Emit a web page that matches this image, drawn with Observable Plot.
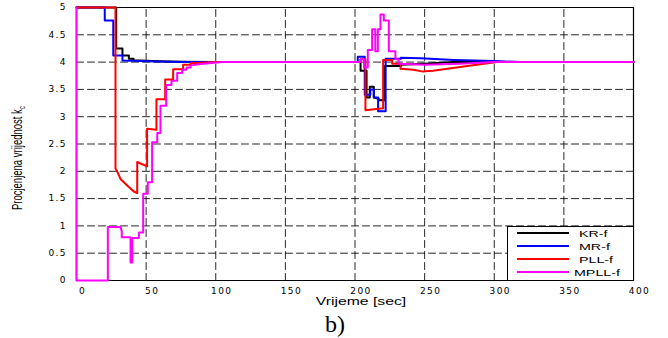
<!DOCTYPE html>
<html><head><meta charset="utf-8">
<script src="https://cdn.jsdelivr.net/npm/d3@7"></script>
<script src="https://cdn.jsdelivr.net/npm/@observablehq/plot@0.6"></script>
<style>
body{margin:0;background:#fff;width:668px;height:338px;overflow:hidden;position:relative}
#cap{font-family:"Liberation Serif","Times New Roman",serif;font-size:24px;text-align:center;width:668px;height:28px;line-height:28px;padding-left:2px;box-sizing:border-box}
.ov{position:absolute;font-family:"Liberation Sans",Arial,sans-serif;color:#000;white-space:nowrap}
#xl{left:360.5px;top:294.5px;font-size:10.5px;line-height:12px;transform-origin:0 0;transform:scaleX(1.5) translateX(-50%)}
#yl{left:19px;top:157.5px;font-size:9.5px;line-height:11px;transform-origin:0 0;transform:scaleX(1.5) rotate(-90deg) translate(-50%,-50%)}
#yl sub{font-size:6.5px;vertical-align:-2px}
#lg{left:507px;top:226px;width:127px;height:55px;border:1.2px solid #000;background:#fff;box-sizing:border-box}
#lg .ln{position:absolute;left:9px;width:52px;height:2px}
#lg .tx{position:absolute;font-size:9.5px;line-height:11px;transform-origin:0 0;transform:scaleX(1.5)}
</style>
</head><body>
<div id="chart"></div>
<div id="cap">b)</div>
<div class="ov" id="xl"></div>
<div class="ov" id="yl"></div>
<div class="ov" id="lg"></div>
<script>
const xTicks = [0,50,100,150,200,250,300,350,400];
const yTicks = [0,0.5,1,1.5,2,2.5,3,3.5,4,4.5,5];
const yTickLabels = ["0","0.5","1","1.5","2","2.5","3","3.5","4","4.5","5"];
const seriesNames = ["KR-f","MR-f","PLL-f","MPLL-f"];
const seriesColors = ["#000000","#0000ff","#ff0000","#ff00ff"];
const xLabel = "Vrijeme [sec]";
const yLabel = "Procjenjena vrijednost k";
const yLabelSub = "c";

const krT = [0,28.5,28.5,33,33,37.6,37.6,41,41,50,60,75,100,204,204,208.3,208.3,210.6,210.6,213.5,213.5,217,217,221.5,221.5,233,233,250,271,400];
const krV = [5,5,4.25,4.25,4.12,4.12,4.06,4.06,4.035,4.025,4.015,4.005,4.0,4.0,3.84,3.84,3.35,3.35,3.55,3.55,3.35,3.33,3.3,3.3,3.93,3.93,3.95,3.97,4.0,4.0];

const mrT = [0,20.3,20.3,26.4,26.4,33,33,50,65,80,202,202,207,207,211,211,213.5,213.5,216.6,216.6,222,222,233,233,247,271,300,319,400];
const mrV = [5,5,4.76,4.76,4.12,4.12,4.03,4.015,4.005,4.0,4.0,4.1,4.1,3.4,3.4,3.5,3.5,3.35,3.35,3.1,3.1,4.06,4.06,4.08,4.07,4.04,4.02,4.0,4.0];

const pllT = [0,28,28,29.2,31.6,36.4,41.2,43.6,43.6,50.7,50.7,57.4,57.4,63.7,63.7,69.4,69.4,76.6,76.6,82,82,90,100,204,204,207.5,207.5,218.5,220.2,220.2,226.7,226.7,232.7,232.7,242,248,256,278,302,400];
const pllV = [5,5,2.05,2.0,1.86,1.74,1.63,1.6,2.17,2.09,2.78,2.76,3.32,3.32,3.68,3.68,3.87,3.87,3.95,3.95,3.98,3.99,4.0,4.0,4.05,4.05,3.12,3.15,3.15,4.04,4.04,3.97,3.97,3.88,3.86,3.83,3.84,3.92,4.0,4.0];

const mpllT = [0,0,22.5,22.5,31.6,32.5,32.5,38.8,38.8,40,40,44.8,44.8,47.9,47.9,51.2,51.2,54.3,54.3,58,58,60.3,60.3,64.4,64.4,68.2,68.2,72.3,72.3,75.9,75.9,79,79,82,82,88,95,105,204,204,206.5,206.5,209.2,209.2,212.3,212.3,214.6,214.6,216.4,216.4,218.3,218.3,220.7,220.7,224.3,224.3,229,229,231.3,231.3,250,275,300,400];
const mpllV = [5,0,0,0.98,0.98,0.9,0.79,0.79,0.33,0.33,0.78,0.78,0.88,0.88,1.59,1.59,1.8,1.8,2.53,2.53,2.7,2.7,3.2,3.2,3.58,3.58,3.66,3.66,3.8,3.8,3.86,3.86,3.9,3.9,3.94,3.96,3.98,4.0,4.0,4.05,4.05,3.9,3.9,4.22,4.22,4.6,4.6,4.2,4.2,4.6,4.6,4.87,4.87,4.76,4.76,4.2,4.2,4.05,4.05,3.97,3.95,3.97,4.0,4.0];

const seriesT = [krT, mrT, pllT, mpllT];
const seriesV = [krV, mrV, pllV, mpllV];
const rows = seriesNames.map((name, k) => seriesT[k].map((t, i) => ({series: name, t, v: seriesV[k][i]})));

// grid lines and frame as paths built from the tick arrays
const x0 = xTicks[0], x1 = xTicks[xTicks.length - 1];
const y0 = yTicks[0], y1 = yTicks[yTicks.length - 1];
const gridRows = [
  ...xTicks.slice(1, -1).flatMap(t => [{id: "x" + t, t, v: y0}, {id: "x" + t, t, v: y1}]),
  ...yTicks.slice(1, -1).flatMap(v => [{id: "y" + v, t: x0, v}, {id: "y" + v, t: x1, v}])
];
const frameRows = [{t: x0, v: y0}, {t: x1, v: y0}, {t: x1, v: y1}, {t: x0, v: y1}, {t: x0, v: y0}];

const W = 668, H = 310, mL = 76, mR = 35, mT = 7, mB = 30;
const plot = Plot.plot({
  width: W, height: H, marginLeft: mL, marginRight: mR, marginTop: mT, marginBottom: mB,
  style: {fontFamily: "'DejaVu Sans', sans-serif", fontSize: "9px", letterSpacing: "1.4px", color: "black", background: "white"},
  x: {domain: [x0, x1]},
  y: {domain: [y0, y1]},
  marks: [
    Plot.line(gridRows, {x: "t", y: "v", z: "id", stroke: "#000", strokeOpacity: 0.85, strokeWidth: 1, strokeDasharray: "7,4"}),
    Plot.line(frameRows, {x: "t", y: "v", stroke: "#000", strokeWidth: 1.2}),
    Plot.axisX(xTicks, {tickSize: 0, tickPadding: 7, dx: 6, label: null, fill: "black"}),
    Plot.axisY(yTicks, {tickSize: 0, tickPadding: 9.5, label: null, fill: "black", tickFormat: (d, i) => yTickLabels[i]}),
    ...rows.map((r, k) => Plot.line(r, {x: "t", y: "v", stroke: seriesColors[k], strokeWidth: 2, curve: "linear"}))
  ]
});
document.getElementById("chart").appendChild(plot);

// axis titles and legend as HTML overlays
document.getElementById("xl").textContent = xLabel;
const yl = document.getElementById("yl");
yl.appendChild(document.createTextNode(yLabel));
const sub = document.createElement("sub"); sub.textContent = yLabelSub; yl.appendChild(sub);

const lg = document.getElementById("lg");
seriesNames.forEach((name, i) => {
  const cy = 6.3 + i * 12.9;
  const ln = document.createElement("div");
  ln.className = "ln"; ln.style.top = (cy - 1) + "px"; ln.style.background = seriesColors[i];
  lg.appendChild(ln);
  const tx = document.createElement("div");
  tx.className = "tx"; tx.textContent = name;
  tx.style.left = (name === "MPLL-f" ? 66 : 71) + "px"; tx.style.top = (cy - 5.5) + "px";
  lg.appendChild(tx);
});
</script>
</body></html>
